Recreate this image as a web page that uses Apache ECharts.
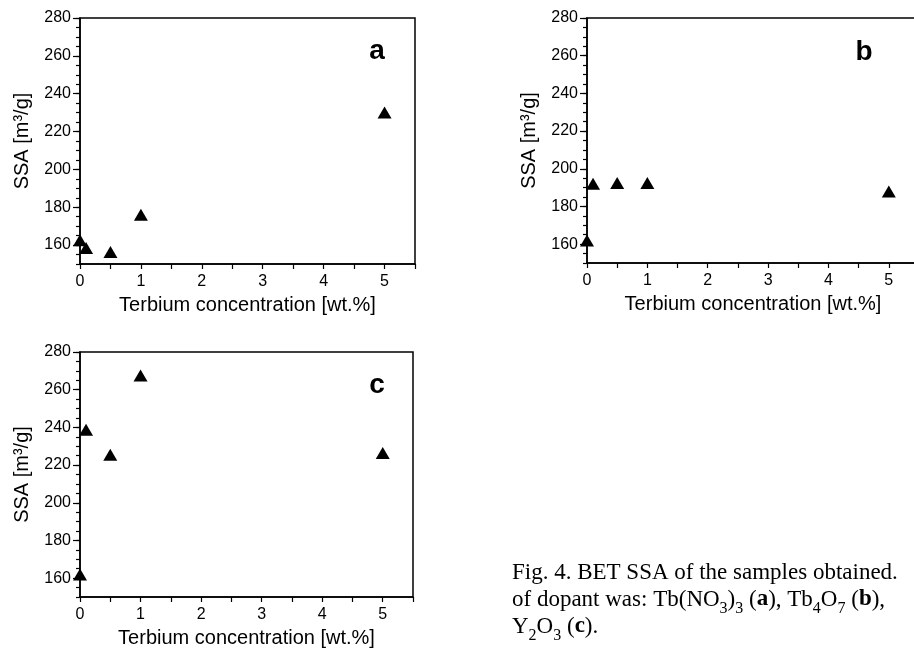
<!DOCTYPE html>
<html>
<head>
<meta charset="utf-8">
<script src="https://cdn.jsdelivr.net/npm/echarts@6.0.0/dist/echarts.min.js"></script>
<style>
  html, body { margin: 0; padding: 0; background: #fff; }
  #chart { width: 914px; height: 650px; }
</style>
</head>
<body>
<div id="chart"></div>
<script>
// Tb concentration [wt.%] and SSA [m3/g]
const conc = [0, 0.1, 0.5, 1, 5];
const ssaA = [162.5, 158.5, 156.3, 176, 230];   // Tb(NO3)3
const ssaB = [162, 192, 192.5, 192.5, 188];     // Tb4O7
const ssaC = [162, 238.8, 225.5, 267.5, 226.4]; // Y2O3
const xTicks = [0, 1, 2, 3, 4, 5];
const yTicks = [160, 180, 200, 220, 240, 260, 280];
const letters = ['a', 'b', 'c'];

const xName = 'Terbium concentration [wt.%]';
const yName = 'SSA [m³/g]';

const black = '#000';
const sans = 'Liberation Sans, Arial, sans-serif';

// panel boxes in pixels
const grids = [
  { left: 80, top: 18, width: 335, height: 246 },
  { left: 587, top: 18, width: 332, height: 245 },
  { left: 80, top: 352, width: 333, height: 245 }
];
const letterPos = [[377, 65], [864, 66], [377, 399]];

let xAxes = [];
let yAxes = [];
let series = [];
const allData = [ssaA, ssaB, ssaC];

grids.forEach(function (g, i) {
  g.show = true;
  g.borderColor = black;
  g.borderWidth = 1.5;
  g.outerBoundsMode = 'none';
  g.containLabel = false;

  xAxes.push({
    gridIndex: i,
    type: 'value',
    position: 'bottom',
    min: 0,
    max: 5.5,
    interval: 0.5,
    name: xName,
    nameLocation: 'middle',
    nameGap: 31,
    nameTextStyle: { color: black, fontFamily: sans, fontSize: 20 },
    axisLine: { show: true, onZero: false, lineStyle: { color: black, width: 1.5 } },
    axisTick: { show: true, inside: false, length: 5, lineStyle: { color: black, width: 1.2 } },
    axisLabel: {
      color: black, fontFamily: sans, fontSize: 16, margin: 10,
      formatter: function (v) { return xTicks.indexOf(v) >= 0 ? String(v) : ''; }
    },
    splitLine: { show: false }
  });

  // minor ticks every 5
  yAxes.push({
    gridIndex: i,
    type: 'value',
    position: 'left',
    offset: 0,
    min: 150,
    max: 280,
    interval: 5,
    axisLine: { show: true, onZero: false, lineStyle: { color: black, width: 1.5 } },
    axisTick: { show: true, length: 4, lineStyle: { color: black, width: 1.2 } },
    axisLabel: { show: false },
    splitLine: { show: false }
  });
  // major ticks and labels
  yAxes.push({
    gridIndex: i,
    type: 'value',
    position: 'left',
    offset: 0,
    min: 150,
    max: 280,
    interval: 5,
    name: yName,
    nameLocation: 'middle',
    nameGap: 48,
    nameTextStyle: { color: black, fontFamily: sans, fontSize: 20 },
    axisLine: { show: false, onZero: false },
    axisTick: { show: true, length: 7, customValues: yTicks, lineStyle: { color: black, width: 1.2 } },
    axisLabel: { color: black, fontFamily: sans, fontSize: 16, margin: 9, customValues: yTicks },
    splitLine: { show: false }
  });

  series.push({
    type: 'scatter',
    xAxisIndex: i,
    yAxisIndex: i * 2 + 1,
    symbol: 'triangle',
    symbolSize: [14, 12],
    itemStyle: { color: black, opacity: 1 },
    data: conc.map(function (c, k) { return [c, allData[i][k]]; })
  });
});

let graphics = letters.map(function (t, i) {
  return {
    type: 'text',
    x: letterPos[i][0],
    y: letterPos[i][1],
    style: {
      text: t,
      font: 'bold 28px ' + sans,
      fill: black,
      textAlign: 'center',
      textVerticalAlign: 'bottom'
    }
  };
});

// caption
const serif = 'Liberation Serif, Times New Roman, serif';
graphics.push({
  type: 'text',
  x: 512,
  y: 559,
  style: {
    text: '{n|Fig. 4. BET SSA of the samples obtained.}\n' +
      '{n|of dopant was: Tb(NO}{s|3}{n|)}{s|3}{n| (}{b|a}{n|), Tb}{s|4}{n|O}{s|7}{n| (}{b|b}{n|),}\n' +
      '{n|Y}{s|2}{n|O}{s|3}{n| (}{b|c}{n|).}',
    fill: black,
    textVerticalAlign: 'top',
    rich: {
      n: { fontFamily: serif, fontSize: 23, lineHeight: 27, color: black },
      b: { fontFamily: serif, fontSize: 23, lineHeight: 27, fontWeight: 'bold', color: black },
      s: { fontFamily: serif, fontSize: 16, lineHeight: 12, padding: [15, 0, 0, 0], verticalAlign: 'top', color: black }
    }
  }
});

const chart = echarts.init(document.getElementById('chart'), null, { renderer: 'canvas' });
chart.setOption({
  backgroundColor: '#fff',
  animation: false,
  grid: grids,
  xAxis: xAxes,
  yAxis: yAxes,
  series: series,
  graphic: graphics
});
</script>
</body>
</html>
